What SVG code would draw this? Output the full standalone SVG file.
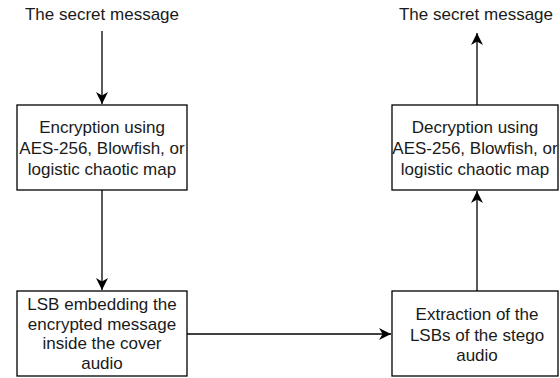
<svg xmlns="http://www.w3.org/2000/svg" width="560" height="378" viewBox="0 0 560 378">
<style>
.box{fill:#fff;stroke:#000;stroke-width:1.3}
.t{font-family:"Liberation Sans",Arial,sans-serif;font-size:17px;fill:#1a1a1a;text-anchor:middle}
.c{fill:none;stroke:#000;stroke-width:1.3}
</style>
<defs>
<marker id="ah" markerWidth="12" markerHeight="12" refX="10" refY="5" orient="auto" markerUnits="userSpaceOnUse" viewBox="0 0 10 10">
<path d="M0,0 L10,5 L0,10 L3,5 Z" fill="#000"/>
</marker>
</defs>
<g id="connectors">
<line class="c" x1="102" y1="31" x2="102" y2="104" marker-end="url(#ah)"/>
<line class="c" x1="102" y1="190" x2="102" y2="290" marker-end="url(#ah)"/>
<line class="c" x1="187" y1="334" x2="391" y2="334" marker-end="url(#ah)"/>
<line class="c" x1="477" y1="291" x2="477" y2="191" marker-end="url(#ah)"/>
<line class="c" x1="477" y1="105" x2="477" y2="33" marker-end="url(#ah)"/>
</g>
<g id="src-label"><text class="t" x="102" y="20">The secret message</text></g>
<g id="dst-label"><text class="t" x="476" y="20">The secret message</text></g>
<g id="encrypt">
<rect class="box" x="17" y="105" width="170" height="85"/>
<text class="t" x="102" y="133">Encryption using</text>
<text class="t" x="102" y="154">AES-256, Blowfish, or</text>
<text class="t" x="102" y="175">logistic chaotic map</text>
</g>
<g id="embed">
<rect class="box" x="17" y="291" width="170" height="85"/>
<text class="t" x="102" y="310">LSB embedding the</text>
<text class="t" x="102" y="330">encrypted message</text>
<text class="t" x="102" y="349">inside the cover </text>
<text class="t" x="102" y="369">audio</text>
</g>
<g id="decrypt">
<rect class="box" x="392" y="105" width="166" height="85"/>
<text class="t" x="475" y="133">Decryption using</text>
<text class="t" x="475" y="154">AES-256, Blowfish, or</text>
<text class="t" x="475" y="175">logistic chaotic map</text>
</g>
<g id="extract">
<rect class="box" x="392" y="291" width="166" height="85"/>
<text class="t" x="477" y="320">Extraction of the</text>
<text class="t" x="477" y="341">LSBs of the stego</text>
<text class="t" x="477" y="361">audio</text>
</g>
</svg>
